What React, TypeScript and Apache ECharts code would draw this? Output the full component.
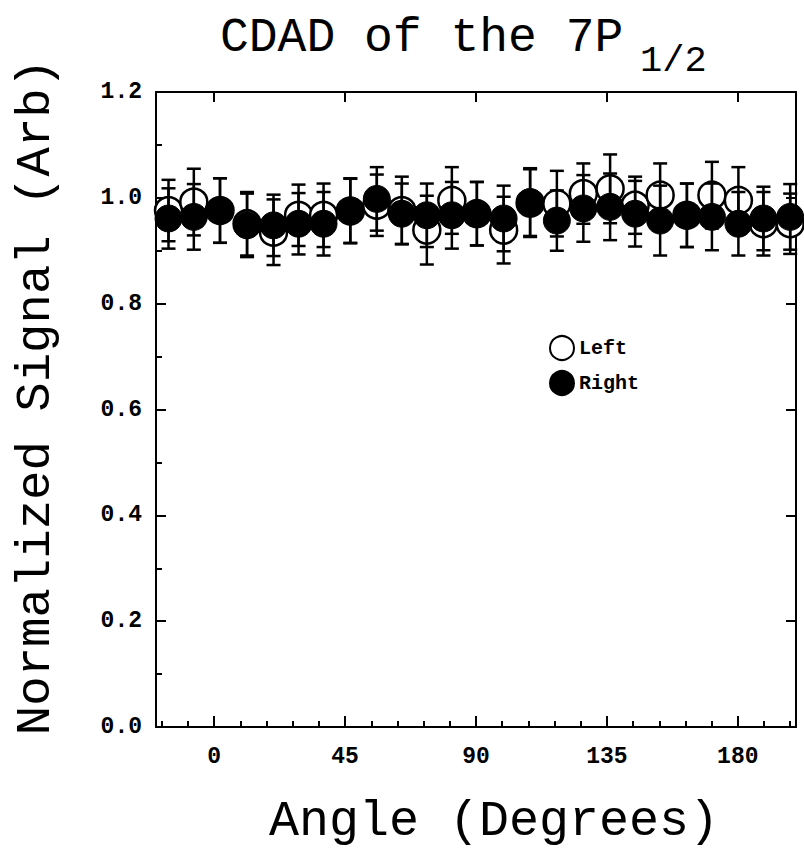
import React, { useEffect, useRef } from "react";
import * as echarts from "echarts";

// Angles (degrees) of the measured points
const angles = [-15.7, -7, 2, 11.3, 20.4, 29, 37.6, 46.8, 55.9, 64.5, 73.1, 81.7, 90.3, 99.5, 108.6, 117.8, 126.9, 136.1, 144.7, 153.3, 162.5, 171.1, 180.2, 188.8, 198];
// Normalized signal, left circular polarization (open circles)
const leftValues = [0.976, 0.992, 0.976, 0.951, 0.935, 0.967, 0.967, 0.975, 0.986, 0.976, 0.939, 0.995, 0.97, 0.939, 0.99, 0.989, 1.008, 1.017, 0.986, 1.005, 0.967, 1.005, 0.995, 0.951, 0.951];
const leftErrors = [0.058, 0.063, 0.061, 0.06, 0.062, 0.058, 0.06, 0.061, 0.058, 0.064, 0.065, 0.063, 0.06, 0.063, 0.064, 0.062, 0.057, 0.065, 0.054, 0.06, 0.06, 0.063, 0.063, 0.06, 0.057];
// Normalized signal, right circular polarization (filled circles)
const rightValues = [0.961, 0.964, 0.976, 0.948, 0.948, 0.951, 0.951, 0.976, 0.998, 0.97, 0.967, 0.967, 0.97, 0.961, 0.992, 0.957, 0.98, 0.983, 0.97, 0.957, 0.967, 0.964, 0.951, 0.961, 0.964];
const rightErrors = [0.057, 0.062, 0.061, 0.06, 0.058, 0.058, 0.06, 0.061, 0.06, 0.057, 0.06, 0.063, 0.06, 0.062, 0.064, 0.057, 0.063, 0.063, 0.062, 0.066, 0.06, 0.063, 0.06, 0.06, 0.062];

const xMajorTicks = [0, 45, 90, 135, 180];
const xMinorTicks = [-18, -9, 9, 18, 27, 36, 54, 63, 72, 81, 99, 108, 117, 126, 144, 153, 162, 171, 189, 198];
const seriesNames = ["Left", "Right"];
const titleMain = "CDAD of the 7P";
const titleSub = "1/2";
const xTitle = "Angle (Degrees)";
const yTitle = "Normalized Signal (Arb)";

const MONO = "'Liberation Mono', 'DejaVu Sans Mono', monospace";

export default function App() {
  const ref = useRef<HTMLDivElement>(null);
  useEffect(() => {
    if (!ref.current) return;
    const chart = echarts.init(ref.current, null, { renderer: "svg" });
    const errRender = (params: any, api: any) => {
      const x = api.value(0);
      const y = api.value(1);
      const e = api.value(2);
      const top = api.coord([x, y + e]);
      const bot = api.coord([x, y - e]);
      const hw = 7;
      const st = { stroke: "#000", lineWidth: 2.5 };
      return {
        type: "group",
        children: [
          { type: "line", shape: { x1: top[0], y1: top[1], x2: bot[0], y2: bot[1] }, style: st },
          { type: "line", shape: { x1: top[0] - hw, y1: top[1], x2: top[0] + hw, y2: top[1] }, style: st },
          { type: "line", shape: { x1: bot[0] - hw, y1: bot[1], x2: bot[0] + hw, y2: bot[1] }, style: st },
        ],
      };
    };
    const axisLine = { show: true, onZero: false, lineStyle: { color: "#000", width: 2 } };
    chart.setOption({
      animation: false,
      backgroundColor: "#fff",
      grid: { left: 156, right: 8, top: 92, bottom: 131, containLabel: false, outerBoundsMode: "none" },
      legend: {
        data: seriesNames,
        orient: "vertical",
        left: 549,
        top: 335,
        padding: 0,
        itemWidth: 24,
        itemHeight: 24,
        itemGap: 9,
        textStyle: { fontFamily: MONO, fontWeight: "bold", fontSize: 20, color: "#000" },
      },
      xAxis: [
        {
          type: "value",
          min: -20,
          max: 200,
          position: "bottom",
          axisLine,
          splitLine: { show: false },
          axisTick: { show: true, inside: true, length: 11, customValues: xMajorTicks, lineStyle: { color: "#000", width: 2 } },
          axisLabel: { show: true, customValues: xMajorTicks, margin: 18, color: "#000", fontFamily: MONO, fontWeight: "bold", fontSize: 23 },
        },
        {
          type: "value",
          min: -20,
          max: 200,
          position: "bottom",
          axisLine: { show: false, onZero: false },
          splitLine: { show: false },
          axisTick: { show: true, inside: true, length: 6, customValues: xMinorTicks, lineStyle: { color: "#000", width: 2 } },
          axisLabel: { show: false },
        },
        {
          type: "value",
          min: -20,
          max: 200,
          position: "top",
          axisLine,
          splitLine: { show: false },
          axisTick: { show: true, inside: true, length: 10, customValues: xMajorTicks, lineStyle: { color: "#000", width: 2 } },
          axisLabel: { show: false },
        },
      ],
      yAxis: [
        {
          type: "value",
          min: 0,
          max: 1.2,
          interval: 0.2,
          position: "left",
          axisLine,
          splitLine: { show: false },
          axisTick: { show: true, inside: true, length: 10, lineStyle: { color: "#000", width: 2 } },
          minorTick: { show: true, splitNumber: 2, length: 6, lineStyle: { color: "#000", width: 2 } },
          axisLabel: {
            margin: 14,
            color: "#000",
            fontFamily: MONO,
            fontWeight: "bold",
            fontSize: 23,
            formatter: (v: number) => v.toFixed(1),
          },
        },
        {
          type: "value",
          min: 0,
          max: 1.2,
          interval: 0.2,
          position: "right",
          axisLine,
          splitLine: { show: false },
          axisTick: { show: true, inside: true, length: 10, lineStyle: { color: "#000", width: 2 } },
          axisLabel: { show: false },
        },
      ],
      series: [
        {
          name: "Left",
          type: "scatter",
          symbol: "circle",
          symbolSize: 27,
          z: 2,
          itemStyle: { color: "#fff", borderColor: "#000", borderWidth: 2.5, opacity: 1 },
          data: angles.map((a, i) => [a, leftValues[i]]),
        },
        {
          name: "Left err",
          type: "custom",
          z: 3,
          renderItem: errRender,
          encode: { x: 0, y: 1 },
          data: angles.map((a, i) => [a, leftValues[i], leftErrors[i]]),
        },
        {
          name: "Right err",
          type: "custom",
          z: 3,
          renderItem: errRender,
          encode: { x: 0, y: 1 },
          data: angles.map((a, i) => [a, rightValues[i], rightErrors[i]]),
        },
        {
          name: "Right",
          type: "scatter",
          symbol: "circle",
          symbolSize: 27,
          z: 4,
          itemStyle: { color: "#000", borderColor: "#000", borderWidth: 1, opacity: 1 },
          data: angles.map((a, i) => [a, rightValues[i]]),
        },
      ],
      graphic: [
        {
          type: "text",
          x: 220,
          y: 62,
          style: { text: titleMain, fontFamily: MONO, fontSize: 48, fill: "#000", textAlign: "left", textVerticalAlign: "bottom" },
        },
        {
          type: "text",
          x: 640,
          y: 79,
          style: { text: titleSub, fontFamily: MONO, fontSize: 37, fill: "#000", textAlign: "left", textVerticalAlign: "bottom" },
        },
        {
          type: "text",
          x: 494,
          y: 821,
          style: { text: xTitle, fontFamily: MONO, fontSize: 50, fill: "#000", textAlign: "center", textVerticalAlign: "middle" },
        },
        {
          type: "text",
          x: 36,
          y: 397,
          rotation: Math.PI / 2,
          style: { text: yTitle, fontFamily: MONO, fontSize: 49, fill: "#000", textAlign: "center", textVerticalAlign: "middle" },
        },
      ],
    });
    return () => chart.dispose();
  }, []);
  return <div ref={ref} style={{ position: "fixed", left: 0, top: 0, width: 804, height: 858, background: "#fff" }} />;
}
